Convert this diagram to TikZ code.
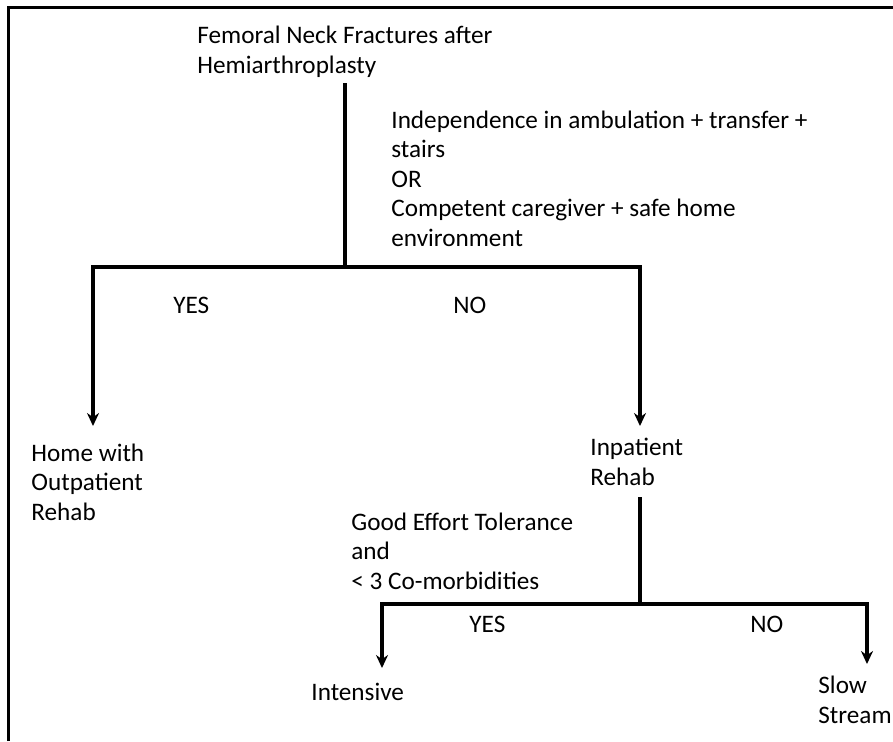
\documentclass[tikz,border=0pt]{standalone}
\usepackage{fontspec}
\setmainfont{Carlito}
\usetikzlibrary{arrows.meta}

\begin{document}
\begin{tikzpicture}[x=0.5pt, y=-0.5pt,
    label/.style ={inner sep = 0pt, align=left, anchor=base west, font=\fontsize{12.6}{14.75}\selectfont},
    link/.style ={line width=1.6pt},
    branch/.style ={line width=1.6pt, {Stealth[length=6.5pt,width=6pt]}-{Stealth[length=6.5pt,width=6pt]}},
    frame/.style ={line width=1.5pt}]
   \useasboundingbox (0,0) rectangle (893,741);
   \draw[frame] (8,741) -- (8,7) -- (893,7);

   \node[label] (femoral)  at (197,73)  {Femoral Neck Fractures after\\Hemiarthroplasty};
   \node[label] (criteria) at (391,246) {Independence in ambulation + transfer +\\stairs\\OR\\Competent caregiver + safe home\\environment};
   \node[label] (yes1)     at (173,313) {YES};
   \node[label] (no1)      at (453,313) {NO};
   \node[label] (home)     at (31,520)  {Home with\\Outpatient\\Rehab};
   \node[label] (inpatient) at (590,485) {Inpatient\\Rehab};
   \node[label] (effort)   at (351,589) {Good Effort Tolerance\\and\\< 3 Co-morbidities};
   \node[label] (yes2)     at (469,632) {YES};
   \node[label] (no2)      at (750,632) {NO};
   \node[label] (intensive) at (311,700) {Intensive};
   \node[label] (slow)     at (818,723) {Slow\\Stream};

   \coordinate (A) at (345,83);
   \coordinate (B) at (345,267);
   \coordinate (C) at (93,267);
   \coordinate (D) at (640,267);
   \coordinate (E) at (93,426);
   \coordinate (F) at (640,426);
   \coordinate (G) at (640,497);
   \coordinate (H) at (640,604);
   \coordinate (I) at (382,604);
   \coordinate (J) at (867,604);
   \coordinate (K) at (382,668);
   \coordinate (L) at (867,664);

   \draw[link] (A) to (B);
   \draw[branch] (E) -- (C) -- (D) -- (F);
   \draw[link] (G) to (H);
   \draw[branch] (K) -- (I) -- (J) -- (L);
\end{tikzpicture}
\end{document}
